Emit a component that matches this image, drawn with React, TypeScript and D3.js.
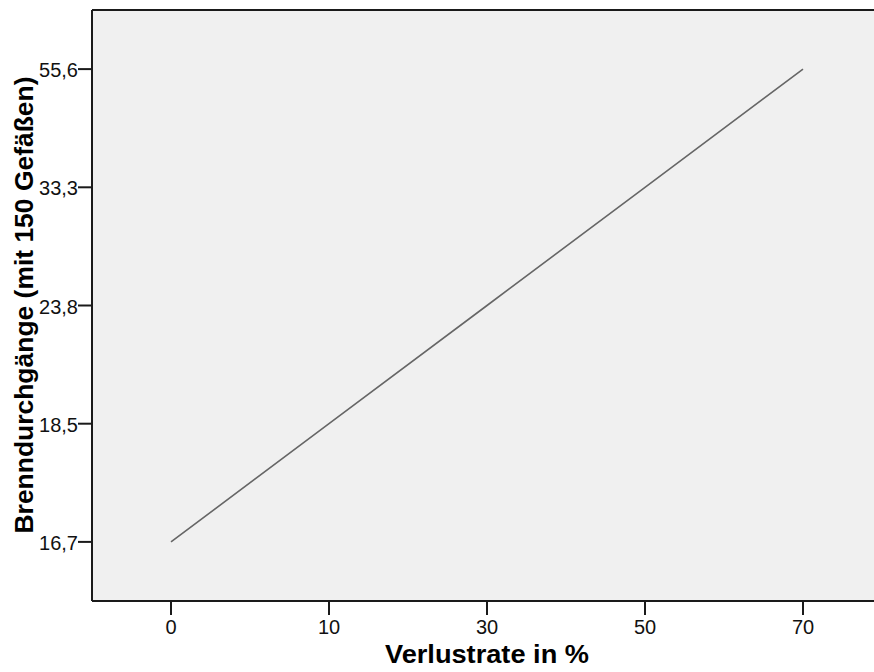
import React from "react";
import * as d3 from "d3";

const categories = ["0", "10", "30", "50", "70"];
const yLevels = ["16,7", "18,5", "23,8", "33,3", "55,6"];
const values = ["16,7", "18,5", "23,8", "33,3", "55,6"];
const xTitle = "Verlustrate in %";
const yTitle = "Brenndurchgänge (mit 150 Gefäßen)";

const W = 874;
const H = 672;
const left = 92;
const top = 10;
const bottom = 601;
const right = 882;

export default function App() {
  const x = d3.scalePoint<string>().domain(categories).range([left, right]).padding(0.5);
  const y = d3.scalePoint<string>().domain(yLevels).range([bottom, top]).padding(0.5);
  const line = d3
    .line<[string, string]>()
    .x((d) => x(d[0]) as number)
    .y((d) => y(d[1]) as number);
  const pts: [string, string][] = categories.map((c, i) => [c, values[i]]);
  const font = "'Liberation Sans', Arimo, sans-serif";
  return (
    <svg
      width={W}
      height={H}
      style={{ position: "absolute", left: 0, top: 0, display: "block" }}
      fontFamily={font}
    >
      <rect x={0} y={0} width={W} height={H} fill="#ffffff" />
      <rect x={left} y={top} width={W - left} height={bottom - top} fill="#f0f0f0" />
      <path d={line(pts) || ""} fill="none" stroke="#666666" strokeWidth={1.6} />
      <line x1={left} y1={top} x2={W} y2={top} stroke="#1a1a1a" strokeWidth={2} />
      <line x1={left} y1={top} x2={left} y2={bottom} stroke="#1a1a1a" strokeWidth={2} />
      <line x1={left} y1={bottom} x2={W} y2={bottom} stroke="#1a1a1a" strokeWidth={2} />
      {yLevels.map((t) => (
        <g key={t}>
          <line x1={left - 14} x2={left} y1={y(t)} y2={y(t)} stroke="#1a1a1a" strokeWidth={2} />
          <text x={left - 14} y={(y(t) as number) + 8} textAnchor="end" fontSize={20} fill="#111">
            {t}
          </text>
        </g>
      ))}
      {categories.map((c) => (
        <g key={c}>
          <line x1={x(c)} x2={x(c)} y1={bottom} y2={bottom + 14} stroke="#1a1a1a" strokeWidth={2} />
          <text x={x(c)} y={bottom + 33} textAnchor="middle" fontSize={20} fill="#111">
            {c}
          </text>
        </g>
      ))}
      <text
        x={487}
        y={663}
        textAnchor="middle"
        fontSize={25}
        fontWeight="bold"
        fill="#000"
        textLength={204}
        lengthAdjust="spacingAndGlyphs"
      >
        {xTitle}
      </text>
      <text
        transform={`translate(33,305) rotate(-90)`}
        textAnchor="middle"
        fontSize={25}
        fontWeight="bold"
        fill="#000"
        textLength={457}
        lengthAdjust="spacingAndGlyphs"
      >
        {yTitle}
      </text>
    </svg>
  );
}
